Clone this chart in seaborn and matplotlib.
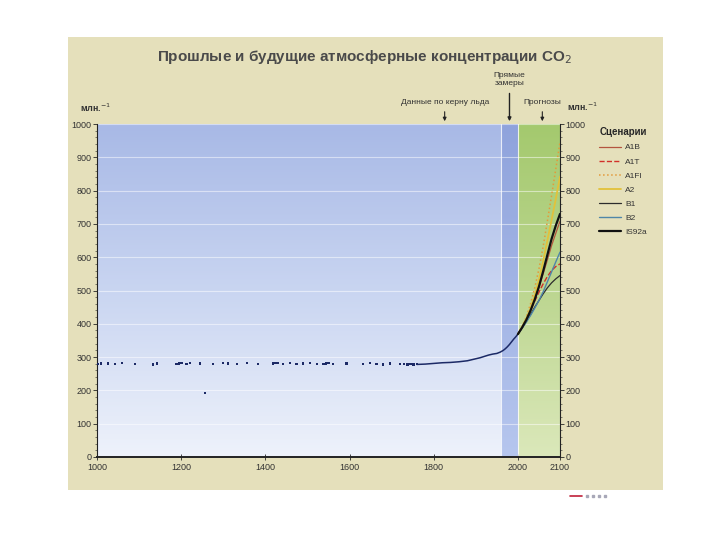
import numpy as np
import pandas as pd
import matplotlib.pyplot as plt
import seaborn as sns
from matplotlib.patches import Rectangle
from matplotlib.lines import Line2D
from matplotlib.colors import LinearSegmentedColormap

# ice core samples (scattered dots)
ice_years = [1003, 1010, 1026, 1043, 1059, 1090, 1133, 1142, 1189, 1195, 1201, 1213, 1221,
             1245, 1256, 1276, 1300, 1311, 1332, 1356, 1383, 1418, 1424, 1430, 1442, 1458,
             1474, 1490, 1506, 1522, 1538, 1544, 1550, 1561, 1593, 1632, 1648, 1664, 1680,
             1696, 1720, 1730, 1738, 1745, 1752, 1760]
ice_ppm = [280, 281, 281, 279, 282, 280, 278, 281, 279, 281, 283, 280, 282,
           281, 192, 280, 283, 281, 279, 282, 280, 281, 282, 283, 279, 282,
           280, 281, 283, 279, 280, 281, 282, 280, 281, 279, 282, 280, 278,
           281, 279, 280, 278, 279, 278, 280]

# later ice core + direct measurements
hist_years = [1760, 1780, 1800, 1820, 1840, 1860, 1880, 1900, 1910, 1920, 1930, 1940,
              1950, 1958, 1965, 1970, 1975, 1980, 1985, 1990, 1995, 2000]
hist_ppm = [278, 279, 281, 283, 284, 286, 289, 295, 298, 302, 306, 309,
            311, 315, 320, 325, 331, 338, 346, 354, 361, 369]

# projections
proj_years = [2000, 2010, 2020, 2030, 2040, 2050, 2060, 2070, 2080, 2090, 2100]
scenarios = {
    'A1B':   [369, 389, 412, 440, 472, 510, 550, 592, 635, 672, 708],
    'A1T':   [369, 389, 413, 440, 468, 495, 520, 542, 560, 572, 580],
    'A1FI':  [369, 392, 421, 460, 508, 565, 632, 708, 785, 865, 945],
    'A2':    [369, 390, 416, 447, 485, 532, 588, 650, 712, 775, 842],
    'B1':    [369, 387, 407, 428, 450, 470, 490, 508, 523, 535, 545],
    'B2':    [369, 387, 405, 425, 447, 470, 496, 526, 556, 586, 615],
    'IS92a': [369, 389, 412, 440, 473, 512, 558, 607, 655, 695, 730],
}
styles = {
    'A1B':   dict(color='#b4553f', ls='-', lw=0.9),
    'A1T':   dict(color='#d2302a', ls='--', lw=1.0),
    'A1FI':  dict(color='#e39a3a', ls=':', lw=1.1),
    'A2':    dict(color='#e2c23a', ls='-', lw=1.3),
    'B1':    dict(color='#2c2c2c', ls='-', lw=0.9),
    'B2':    dict(color='#4f86a8', ls='-', lw=1.0),
    'IS92a': dict(color='#111111', ls='-', lw=1.6),
}

yticks = list(range(0, 1001, 100))
xticks = [1000, 1200, 1400, 1600, 1800, 2000, 2100]

sns.set_theme(style='white')
plt.rcParams['font.family'] = ['Liberation Sans', 'DejaVu Sans']

fig = plt.figure(figsize=(7.2, 5.4), dpi=100)
fig.patch.set_facecolor('white')
fig.patches.append(Rectangle((68 / 720, 1 - 490 / 540), (663 - 68) / 720, (490 - 37) / 540,
                             transform=fig.transFigure, facecolor='#e5e0bb',
                             edgecolor='none', zorder=-5))
# little page marker under the panel
fig.lines.append(Line2D([570 / 720, 582 / 720], [1 - 496 / 540] * 2, transform=fig.transFigure,
                        color='#c0203a', lw=1.2))
fig.lines.append(Line2D([587 / 720, 593 / 720, 599 / 720, 605 / 720], [1 - 496 / 540] * 4,
                        transform=fig.transFigure, color='#a8a8b8', lw=0, marker='s',
                        markersize=1.5))

ax = fig.add_axes([97 / 720, 1 - 457 / 540, (560 - 97) / 720, (457 - 124) / 540])
ax.set_zorder(2)
ax.set_facecolor('none')

grad = np.linspace(1, 0, 256).reshape(-1, 1)
blue = LinearSegmentedColormap.from_list('b', ['#eef2fb', '#c9d5f1', '#a8b9e6'])
band = LinearSegmentedColormap.from_list('d', ['#b6c6ee', '#8fa3dc'])
green = LinearSegmentedColormap.from_list('g', ['#dbe8ba', '#bcd690', '#a4c96e'])
ax.imshow(grad, extent=[1000, 1960, 0, 1000], aspect='auto', cmap=blue, zorder=0)
ax.imshow(grad, extent=[1960, 2000, 0, 1000], aspect='auto', cmap=band, zorder=0)
ax.imshow(grad, extent=[2000, 2100, 0, 1000], aspect='auto', cmap=green, zorder=0)
for v in yticks[1:]:
    ax.axhline(v, color='white', lw=0.8, alpha=0.5, zorder=1)
for v in [1960, 2000]:
    ax.axvline(v, color='white', lw=0.8, alpha=0.8, zorder=1)

sns.scatterplot(x=ice_years, y=ice_ppm, ax=ax, color='#1c2a66', s=3,
                edgecolor='none', marker='s', zorder=3)
sns.lineplot(x=hist_years, y=hist_ppm, ax=ax, color='#1c2a66', lw=1.1, zorder=3)

handles = []
for name, vals in scenarios.items():
    st = styles[name]
    sns.lineplot(x=proj_years, y=vals, ax=ax, color=st['color'], linestyle=st['ls'],
                 lw=st['lw'], zorder=4)
    handles.append(ax.lines[-1])

ax.set_xlim(1000, 2100)
ax.set_ylim(0, 1000)
ax.set_xticks(xticks)
ax.set_xticklabels([str(t) for t in xticks], fontsize=6.5, color='#333333')
ax.set_yticks(yticks)
ax.set_yticklabels([str(t) for t in yticks], fontsize=6.5, color='#333333')
ax.set_yticks(range(0, 1001, 20), minor=True)
ax.tick_params(axis='y', which='major', direction='out', length=3, width=0.6,
               left=True, right=True, labelleft=True, labelright=True, pad=1)
ax.tick_params(axis='y', which='minor', direction='out', length=1.5, width=0.4,
               left=True, right=True)
ax.tick_params(axis='x', which='major', direction='inout', length=4, width=0.6,
               bottom=True, pad=2)
for side in ['left', 'right', 'bottom']:
    ax.spines[side].set_visible(True)
    ax.spines[side].set_color('#222222')
ax.spines['left'].set_linewidth(0.8)
ax.spines['right'].set_linewidth(0.8)
ax.spines['bottom'].set_linewidth(1.4)
ax.spines['top'].set_visible(False)
ax.set_xlabel('')
ax.set_ylabel('')

fig.text(365 / 720, 1 - 57 / 540, 'Прошлые и будущие атмосферные концентрации CO$_2$',
         ha='center', va='center', fontsize=11, fontweight='bold', color='#4a4a4a')
fig.text(80 / 720, 1 - 108 / 540, 'млн.$^{-1}$', ha='left', va='center',
         fontsize=6.5, fontweight='bold', color='#333333')
fig.text(567 / 720, 1 - 107 / 540, 'млн.$^{-1}$', ha='left', va='center',
         fontsize=6.5, fontweight='bold', color='#333333')

ann = dict(fontsize=6, color='#333333', ha='center')
ax.annotate('Данные по керну льда', xy=(1826, 1000), xytext=(1826, 1055),
            textcoords='data', va='bottom', annotation_clip=False,
            arrowprops=dict(arrowstyle='-|>', color='#222222', lw=0.8,
                            mutation_scale=5), **ann)
ax.annotate('Прямые\nзамеры', xy=(1980, 1000), xytext=(1980, 1110),
            textcoords='data', va='bottom', annotation_clip=False,
            arrowprops=dict(arrowstyle='-|>', color='#222222', lw=1.0,
                            mutation_scale=5), **ann)
ax.annotate('Прогнозы', xy=(2058, 1000), xytext=(2058, 1055),
            textcoords='data', va='bottom', annotation_clip=False,
            arrowprops=dict(arrowstyle='-|>', color='#222222', lw=0.8,
                            mutation_scale=5), **ann)

leg = fig.legend(handles, list(scenarios.keys()), loc='upper left',
                 bbox_to_anchor=(596 / 720, 1 - 124 / 540), frameon=False,
                 fontsize=6, title='Сценарии', handlelength=2.6,
                 labelspacing=0.75, handletextpad=0.5, borderaxespad=0)
leg.get_title().set_fontweight('bold')
leg.get_title().set_fontsize(7)
leg._legend_box.align = 'left'
for t in leg.get_texts():
    t.set_color('#333333')

fig.savefig('out.png', dpi=100)
